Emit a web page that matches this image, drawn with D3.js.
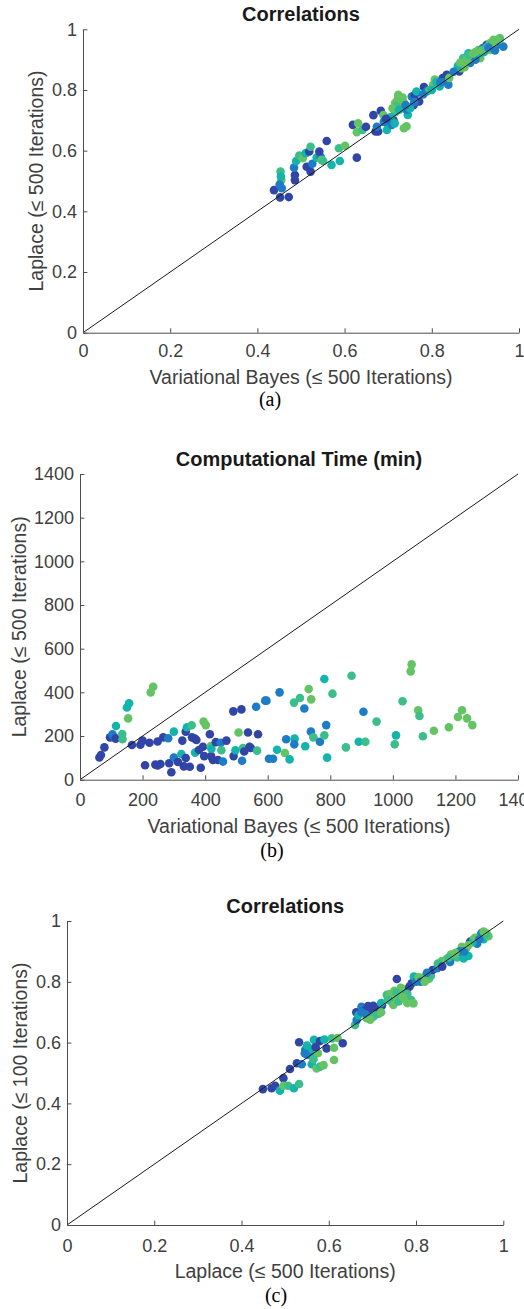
<!DOCTYPE html>
<html>
<head>
<meta charset="utf-8">
<script src="https://cdn.jsdelivr.net/npm/d3@7"></script>
<style>
  body { margin: 0; background: #fff; }
  svg { display: block; }
  text { font-family: "Liberation Sans", Arial, sans-serif; }
</style>
</head>
<body>
<svg id="chart" width="524" height="1309"></svg>
<script>
// [x, y, colour group]  (groups 0 = dark blue ... 4 = green)
const corrVbLaplace = [
  [.438,.470,0],[.452,.446,0],[.472,.447,0],[.456,.476,1],[.453,.531,3],[.455,.503,4],[.454,.515,2],[.451,.488,1],
  [.486,.503,0],[.486,.520,0],[.484,.544,1],[.489,.566,2],[.496,.584,3],[.504,.575,4],[.511,.592,2],[.519,.597,0],
  [.522,.613,3],[.513,.547,0],[.522,.531,0],[.526,.557,1],[.536,.577,2],[.545,.580,1],[.547,.569,4],[.551,.566,3],
  [.542,.597,0],[.559,.632,0],[.570,.553,2],[.587,.608,3],[.601,.616,4],[.589,.566,2],[.628,.577,0],
  [.619,.685,0],[.628,.661,4],[.631,.690,4],[.641,.668,3],[.649,.679,0],[.666,.717,0],[.671,.663,0],[.677,.663,0],
  [.674,.679,1],[.683,.731,0],[.689,.717,4],[.693,.701,3],[.700,.685,2],[.697,.668,2],[.708,.685,1],[.712,.701,0],
  [.716,.727,3],[.719,.751,4],[.723,.784,4],[.727,.768,3],[.731,.740,2],[.735,.760,4],[.736,.674,4],[.742,.680,4],
  [.745,.718,2],[.742,.735,1],[.754,.778,1],[.758,.750,0],[.761,.784,0],[.771,.762,0],[.765,.795,2],[.782,.810,0],
  [.788,.795,1],[.794,.799,3],[.803,.817,4],[.807,.834,4],[.811,.826,2],[.818,.812,2],[.825,.839,0],[.831,.828,1],
  [.834,.850,0],[.838,.817,1],[.863,.861,0],[.865,.883,2],[.867,.872,4],[.872,.905,3],[.876,.894,2],[.884,.921,2],
  [.888,.889,1],[.895,.905,4],[.899,.916,2],[.907,.932,4],[.911,.905,4],[.917,.938,1],[.926,.949,0],[.933,.954,4],
  [.941,.965,4],[.948,.960,3],[.953,.962,1],[.956,.971,4],[.964,.943,1],[.933,.932,4],[.945,.940,2],
  [.716,.758,4],[.726,.748,4],[.730,.770,3],[.705,.710,2],[.690,.695,1],[.750,.740,2],[.760,.760,1],[.780,.785,1],
  [.800,.800,2],[.860,.875,4],[.870,.880,1],[.875,.875,4],[.890,.910,4],[.920,.925,2],[.935,.945,2],[.945,.955,4],
  [.950,.950,1],[.955,.965,3],[.900,.900,1],[.910,.920,2],
  [.722,.770,4],[.728,.762,4],[.718,.745,3],[.733,.775,4],[.710,.740,4],[.725,.735,2],[.740,.750,1],[.705,.695,1],
  [.695,.705,0],[.715,.690,2],[.860,.880,2],[.865,.890,4],[.880,.900,4],[.885,.915,3],[.895,.920,4],[.900,.925,4],
  [.915,.930,4],[.925,.940,3],[.940,.950,4],[.950,.965,4],[.930,.940,1],[.945,.930,1],[.820,.825,1],[.840,.840,4],
  [.850,.860,1]
];

const timeVbLaplace = [
  [62,102,0],[67,113,0],[78,148,0],[96,194,0],[104,208,1],[109,194,1],[115,246,2],[114,188,0],[135,209,3],[136,185,3],
  [150,331,2],[157,350,2],[154,281,4],[166,159,0],[193,160,0],[200,179,0],[208,66,0],[222,169,0],[226,400,4],[234,426,4],
  [241,69,0],[248,65,0],[257,72,0],[248,175,0],[266,194,0],[282,190,1],[300,220,2],[285,75,0],[292,34,0],[300,102,1],
  [313,81,0],[324,118,2],[327,179,0],[332,61,0],[338,99,0],[338,220,0],[342,240,2],[351,59,0],[357,249,3],[358,194,0],
  [367,188,0],[372,182,0],[368,124,2],[380,136,0],[386,55,0],[393,151,0],[395,266,4],[402,250,4],[397,108,0],[415,208,0],
  [418,154,4],[419,108,0],[420,142,2],[425,90,0],[434,172,0],[441,90,0],[450,169,1],[452,135,3],[457,83,1],[468,179,0],
  [491,108,0],[497,135,2],[507,216,4],[518,87,1],[521,145,3],[525,129,0],[537,216,0],[542,151,0],[546,145,0],[490,313,0],
  [516,322,0],[563,334,1],[569,208,0],[566,133,3],[592,362,1],[596,362,1],[604,96,1],[617,96,1],[630,137,2],[638,400,1],
  [655,122,4],[659,185,1],[670,93,2],[684,353,3],[686,188,2],[685,162,1],[703,374,3],[717,326,1],[720,153,2],[731,415,4],
  [739,368,4],[738,220,1],[746,194,3],[767,174,1],[781,461,2],[781,203,3],[787,250,1],[790,101,2],[807,394,3],[850,148,3],
  [868,476,3],[891,174,2],[912,174,3],[906,311,1],[948,266,3],[1006,162,3],[1010,203,2],[1031,359,3],[1057,496,4],[1060,528,4],
  [1081,318,4],[1085,292,3],[1096,199,3],[1131,224,4],[1179,240,4],[1208,287,4],[1221,318,4],[1237,281,4],[1254,250,4]
];

const corrLaplace500100 = [
  [.449,.447,0],[.469,.450,0],[.477,.458,0],[.488,.442,2],[.496,.483,0],[.496,.458,4],[.507,.458,3],[.520,.450,2],
  [.532,.464,3],[.511,.513,0],[.527,.532,0],[.538,.529,1],[.532,.601,0],[.546,.576,1],[.552,.580,0],[.557,.559,2],
  [.561,.529,2],[.566,.609,2],[.572,.515,4],[.580,.521,3],[.588,.526,4],[.568,.575,1],[.580,.605,0],[.575,.565,4],
  [.595,.581,0],[.607,.614,3],[.612,.543,4],[.612,.583,4],[.620,.615,4],[.632,.598,0],
  [.660,.658,3],[.664,.674,1],[.663,.700,0],[.668,.690,2],[.675,.718,1],[.682,.705,0],[.687,.680,4],[.695,.685,4],
  [.702,.685,3],[.702,.721,0],[.710,.705,1],[.714,.695,3],[.716,.712,0],[.722,.722,0],[.733,.757,3],[.740,.760,4],
  [.744,.735,1],[.756,.809,0],[.748,.724,4],[.755,.745,4],[.760,.735,3],[.764,.757,3],[.771,.776,4],[.775,.745,4],
  [.778,.770,1],[.785,.784,0],[.789,.740,3],[.794,.729,4],[.790,.795,0],[.795,.817,2],[.800,.800,1],[.806,.815,4],
  [.818,.815,4],[.830,.810,4],[.834,.820,3],[.838,.839,0],[.848,.845,1],[.859,.868,4],[.870,.875,4],[.878,.865,1],
  [.886,.885,1],[.894,.880,3],[.905,.915,4],[.909,.877,2],[.920,.885,2],[.924,.932,0],[.932,.940,4],[.940,.925,1],
  [.948,.955,4],[.955,.940,2],[.962,.959,4],[.966,.950,4],
  [.700,.700,1],[.690,.710,0],[.720,.730,2],[.735,.740,3],[.765,.780,4],[.780,.760,3],[.810,.800,1],[.850,.860,3],
  [.880,.890,4],[.900,.900,1],[.915,.910,4],[.930,.930,2],[.950,.960,1],[.960,.955,3],[.860,.850,0],[.590,.610,2],
  [.550,.560,1],[.565,.545,3],
  [.555,.570,1],[.560,.580,2],[.545,.565,1],[.570,.585,0],[.550,.590,2],[.675,.700,1],[.685,.695,1],[.690,.720,0],
  [.700,.710,0],[.705,.690,3],[.695,.675,4],[.720,.700,4],[.750,.770,4],[.755,.765,3],[.770,.750,4],[.780,.730,4],
  [.820,.800,4],[.825,.830,1],[.875,.880,3],[.890,.895,4],[.910,.900,1],[.920,.920,4],[.935,.945,4],[.945,.940,1],
  [.955,.965,4]
];

const corrTicks = [0, 0.2, 0.4, 0.6, 0.8, 1];
const timeTicks = [0, 200, 400, 600, 800, 1000, 1200, 1400];
const groupColors = ["#3045a6", "#1e7bc6", "#12b4ab", "#3cbe8a", "#64c463"];

const svg = d3.select("#chart");
const color = d3.scaleLinear().domain(d3.range(groupColors.length)).range(groupColors);

const panels = [
  { data: corrVbLaplace, ticks: corrTicks, max: 1,
    left: 83, right: 519, top: 29.3, bottom: 332.7, xPad: 12, yLabelX: 43.3, xLabelY: 384, capY: 406, capX: 270,
    title: "Correlations", xLabel: "Variational Bayes (\u2264 500 Iterations)",
    yLabel: "Laplace (\u2264 500 Iterations)", caption: "(a)" },
  { data: timeVbLaplace, ticks: timeTicks, max: 1400,
    left: 80, right: 518, top: 474, bottom: 779.7, xPad: 14, yLabelX: 25.5, xLabelY: 833, capY: 857, capX: 272,
    title: "Computational Time (min)", xLabel: "Variational Bayes (\u2264 500 Iterations)",
    yLabel: "Laplace (\u2264 500 Iterations)", caption: "(b)" },
  { data: corrLaplace500100, ticks: corrTicks, max: 1,
    left: 67, right: 503.3, top: 921, bottom: 1225, xPad: 14, yLabelX: 26.5, xLabelY: 1278, capY: 1302, capX: 276,
    title: "Correlations", xLabel: "Laplace (\u2264 500 Iterations)",
    yLabel: "Laplace (\u2264 100 Iterations)", caption: "(c)" }
];

panels.forEach(p => {
  const x = d3.scaleLinear().domain([0, p.max]).range([p.left, p.right]);
  const y = d3.scaleLinear().domain([0, p.max]).range([p.bottom, p.top]);
  const g = svg.append("g");

  g.selectAll("circle")
    .data(p.data)
    .enter()
    .append("circle")
    .attr("cx", d => x(d[0]))
    .attr("cy", d => y(d[1]))
    .attr("r", 4.3)
    .attr("fill", d => color(d[2]));

  // identity line
  g.append("line")
    .attr("x1", x(0)).attr("y1", y(0))
    .attr("x2", x(p.max)).attr("y2", y(p.max))
    .attr("stroke", "#1a1a1a")
    .attr("stroke-width", 1);

  const fmt = d3.format("~g");

  const xAxis = g.append("g")
    .attr("transform", `translate(0,${p.bottom})`)
    .call(d3.axisBottom(x).tickValues(p.ticks).tickFormat(fmt).tickSizeInner(-4.4).tickSizeOuter(0).tickPadding(p.xPad));

  const yAxis = g.append("g")
    .attr("transform", `translate(${p.left},0)`)
    .call(d3.axisLeft(y).tickValues(p.ticks).tickFormat(fmt).tickSizeInner(-4.4).tickSizeOuter(0).tickPadding(6));

  [xAxis, yAxis].forEach(a => {
    a.select(".domain").attr("stroke", "#4d4d4d");
    a.selectAll(".tick line").attr("stroke", "#4d4d4d");
    a.selectAll(".tick text")
      .attr("fill", "#404040")
      .style("font-size", "18px")
      .style("font-family", "'Liberation Sans', Arial, sans-serif");
  });

  g.append("text")
    .attr("x", (p.left + p.right) / 2)
    .attr("y", p.top - 8.3)
    .attr("text-anchor", "middle")
    .text(p.title)
    .style("font-size", "20px")
    .style("font-weight", "bold")
    .style("fill", "#1a1a1a");

  g.append("text")
    .attr("x", (p.left + p.right) / 2)
    .attr("y", p.xLabelY)
    .attr("text-anchor", "middle")
    .text(p.xLabel)
    .style("font-size", "19.5px")
    .style("fill", "#404040");

  g.append("text")
    .attr("transform", `translate(${p.yLabelX},${(p.top + p.bottom) / 2}) rotate(-90)`)
    .attr("text-anchor", "middle")
    .text(p.yLabel)
    .style("font-size", "19.5px")
    .style("fill", "#404040");

  g.append("text")
    .attr("x", p.capX)
    .attr("y", p.capY)
    .attr("text-anchor", "middle")
    .text(p.caption)
    .style("font-family", "'Liberation Serif', 'Times New Roman', serif")
    .style("font-size", "20px")
    .style("fill", "#000");
});
</script>
</body>
</html>
